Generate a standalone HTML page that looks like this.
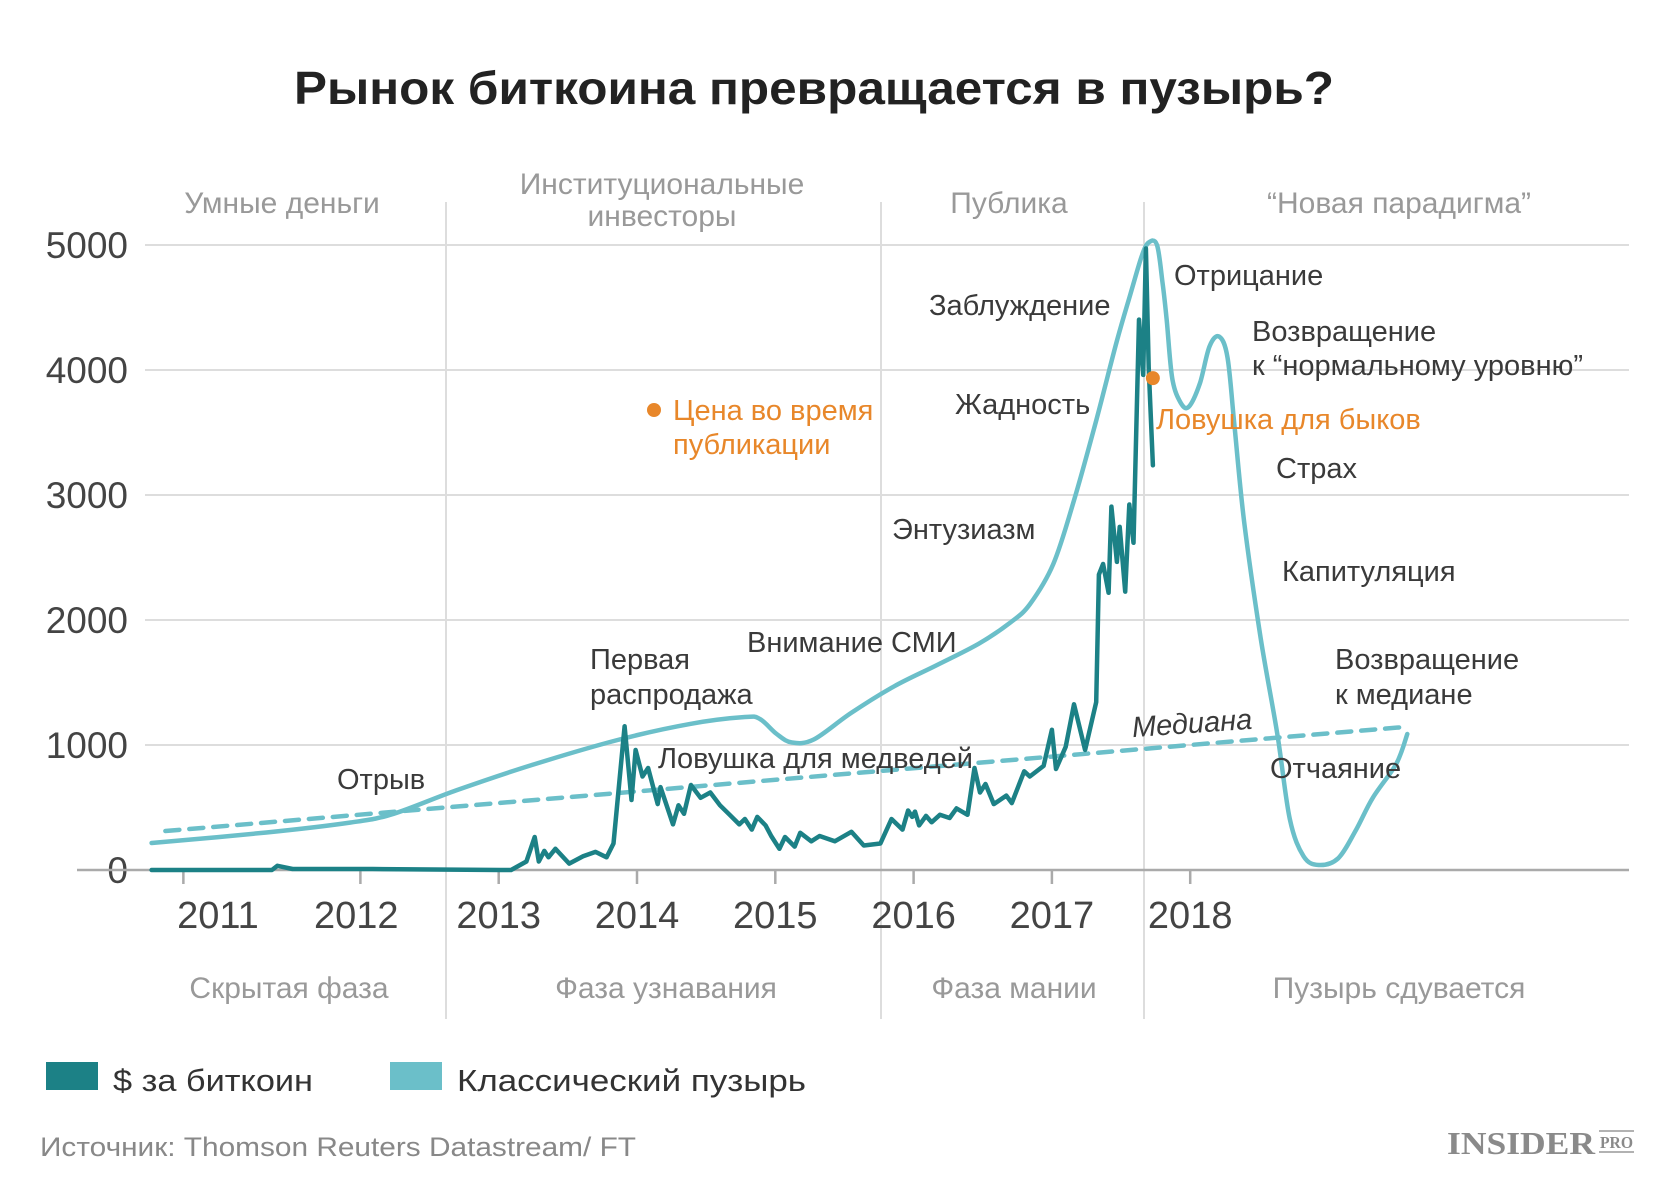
<!DOCTYPE html>
<html><head><meta charset="utf-8">
<style>
html,body{margin:0;padding:0;background:#fff;}
svg{display:block;font-family:"Liberation Sans","DejaVu Sans",sans-serif;}
.ann{font-size:29px;fill:#3a3a3a;}
.ph{font-size:30px;fill:#999;}
.yl{font-size:37px;fill:#444;}
.xl{font-size:38px;fill:#444;}
</style></head>
<body>
<svg id="chart" width="1668" height="1182" viewBox="0 0 1668 1182" xmlns="http://www.w3.org/2000/svg">
<text x="814" y="104" text-anchor="middle" font-size="46" font-weight="bold" fill="#222" textLength="1040" lengthAdjust="spacingAndGlyphs">Рынок биткоина превращается в пузырь?</text>
<g id="grid"></g>
<g id="phases">
<line x1="446" y1="202" x2="446" y2="1019" stroke="#ddd" stroke-width="2"/>
<line x1="881" y1="202" x2="881" y2="1019" stroke="#ddd" stroke-width="2"/>
<line x1="1144" y1="202" x2="1144" y2="1019" stroke="#ddd" stroke-width="2"/>
</g>
<text class="ph" x="282" y="213" text-anchor="middle">Умные деньги</text>
<text class="ph" x="662" y="194" text-anchor="middle">Институциональные</text>
<text class="ph" x="662" y="226" text-anchor="middle">инвесторы</text>
<text class="ph" x="1009" y="213" text-anchor="middle">Публика</text>
<text class="ph" x="1399" y="213" text-anchor="middle">“Новая парадигма”</text>
<text class="ph" x="289" y="998" text-anchor="middle">Скрытая фаза</text>
<text class="ph" x="666" y="998" text-anchor="middle">Фаза узнавания</text>
<text class="ph" x="1014" y="998" text-anchor="middle">Фаза мании</text>
<text class="ph" x="1399" y="998" text-anchor="middle">Пузырь сдувается</text>
<g id="axes"></g>
<g id="series"></g>
<g>
<text class="ann" x="337" y="789">Отрыв</text>
<text class="ann" x="590" y="669">Первая</text>
<text class="ann" x="590" y="704">распродажа</text>
<text class="ann" x="747" y="652">Внимание СМИ</text>
<text class="ann" x="658" y="768">Ловушка для медведей</text>
<text class="ann" x="892" y="539">Энтузиазм</text>
<text class="ann" x="955" y="414">Жадность</text>
<text class="ann" x="929" y="315">Заблуждение</text>
<text class="ann" x="1174" y="285">Отрицание</text>
<text class="ann" x="1252" y="341">Возвращение</text>
<text class="ann" x="1252" y="375">к “нормальному уровню”</text>
<text class="ann" x="1156" y="429" style="fill:#e8872a">Ловушка для быков</text>
<text class="ann" x="1276" y="478">Страх</text>
<text class="ann" x="1282" y="581">Капитуляция</text>
<text class="ann" x="1335" y="669">Возвращение</text>
<text class="ann" x="1335" y="704">к медиане</text>
<text class="ann" x="1270" y="778">Отчаяние</text>
<text class="ann" x="1192" y="733" text-anchor="middle" font-style="italic" transform="rotate(-4 1192 723)">Медиана</text>
<circle cx="654" cy="410" r="7" fill="#e8872a"/>
<text class="ann" x="673" y="420" style="fill:#e8872a">Цена во время</text>
<text class="ann" x="673" y="454" style="fill:#e8872a">публикации</text>
</g>
<rect x="46" y="1062" width="52" height="28" fill="#1c8186"/>
<text x="113" y="1091" font-size="31" fill="#333" textLength="200" lengthAdjust="spacingAndGlyphs">$ за биткоин</text>
<rect x="390" y="1062" width="52" height="28" fill="#6bbfc9"/>
<text x="457" y="1091" font-size="31" fill="#333" textLength="349" lengthAdjust="spacingAndGlyphs">Классический пузырь</text>
<text x="40" y="1156" font-size="27" fill="#888" textLength="596" lengthAdjust="spacingAndGlyphs">Источник: Thomson Reuters Datastream/ FT</text>
<g>
<text x="1447" y="1154" font-family="Liberation Serif,serif" font-weight="bold" font-size="32" fill="#8a8a8a" textLength="148" lengthAdjust="spacingAndGlyphs">INSIDER</text>
<line x1="1599" y1="1131" x2="1634" y2="1131" stroke="#999" stroke-width="1.5"/>
<text x="1600" y="1148" font-family="Liberation Serif,serif" font-weight="bold" font-size="17" fill="#8a8a8a" textLength="33" lengthAdjust="spacingAndGlyphs">PRO</text>
<line x1="1599" y1="1152" x2="1634" y2="1152" stroke="#999" stroke-width="1.5"/>
</g>
</svg>
<script>
const yTicks = [0, 1000, 2000, 3000, 4000, 5000];
const yearLabels = ["2011","2012","2013","2014","2015","2016","2017","2018"];
const yearTickTimes = [2010.72, 2012, 2013, 2014, 2015, 2016, 2017, 2018];
const yearLabelTimes = [2010.97, 2011.97, 2013, 2014, 2015, 2016, 2017, 2018];
const btcT = [2010.49,2011.36,2011.40,2011.51,2012.09,2013.01,2013.09,2013.20,2013.26,2013.29,2013.33,2013.36,2013.41,2013.51,2013.61,2013.70,2013.78,2013.83,2013.91,2013.96,2013.99,2014.04,2014.08,2014.15,2014.17,2014.26,2014.30,2014.34,2014.39,2014.46,2014.53,2014.60,2014.67,2014.74,2014.78,2014.83,2014.87,2014.93,2014.97,2015.03,2015.07,2015.14,2015.18,2015.26,2015.32,2015.43,2015.55,2015.64,2015.76,2015.84,2015.92,2015.96,2015.99,2016.01,2016.04,2016.09,2016.13,2016.19,2016.26,2016.31,2016.39,2016.44,2016.48,2016.52,2016.58,2016.67,2016.71,2016.80,2016.84,2016.94,2017.00,2017.03,2017.10,2017.16,2017.24,2017.32,2017.34,2017.37,2017.41,2017.43,2017.47,2017.49,2017.53,2017.56,2017.59,2017.63,2017.66,2017.68,2017.70,2017.73];
const btcV = [0,0,34,8,8,0,0,68,264,68,153,102,170,51,110,145,102,212,1150,560,960,748,816,527,663,365,518,450,680,578,620,518,442,365,408,323,425,357,272,170,264,187,298,230,272,230,306,196,212,408,323,476,425,467,357,433,382,442,416,493,442,816,620,688,527,595,535,790,748,833,1122,808,986,1326,960,1343,2363,2448,2218,2907,2465,2745,2227,2924,2618,4403,3961,4972,4020,3238];
const bubbleT = [2010.49,2011.32,2011.93,2012.24,2012.70,2013.24,2013.86,2014.39,2014.78,2014.89,2015.01,2015.12,2015.28,2015.55,2015.86,2016.17,2016.47,2016.70,2016.84,2017.01,2017.16,2017.32,2017.47,2017.57,2017.65,2017.70,2017.76,2017.80,2017.83,2017.87,2017.93,2017.99,2018.07,2018.14,2018.21,2018.27,2018.32,2018.39,2018.51,2018.63,2018.72,2018.82,2018.93,2019.07,2019.20,2019.32,2019.49,2019.57];
const bubbleV = [216,300,380,450,640,840,1040,1170,1224,1207,1088,1020,1045,1258,1470,1640,1810,1980,2125,2448,2958,3595,4233,4615,4913,5020,5000,4700,4400,3935,3740,3706,3893,4190,4267,4100,3553,2788,1853,1088,408,110,40,94,323,578,850,1088];
const medianT = [2010.59, 2019.55];
const medianV = [312, 1144];
const pubT = [2017.73];
const pubV = [3935];

const NS = "http://www.w3.org/2000/svg";
function xs(t){ return 637 + (t - 2014) * 138.3; }
function ys(v){ return 870 - v * 0.125; }
function mk(tag, attrs, parent){
  const e = document.createElementNS(NS, tag);
  for (const k in attrs) e.setAttribute(k, attrs[k]);
  parent.appendChild(e); return e;
}
const grid = document.getElementById('grid');
const axes = document.getElementById('axes');
const series = document.getElementById('series');
yTicks.forEach(v => {
  if (v > 0) {
    const l = mk('line', {x1:145, x2:1629, y1:ys(v), y2:ys(v), stroke:'#ddd', 'stroke-width':2}, grid);
    
    
  }
  const t = mk('text', {x:128, y:ys(v)+13, 'text-anchor':'end', class:'yl'}, axes);
  t.textContent = v;
  
  
});
const ax = mk('line', {x1:77, x2:1629, y1:870, y2:870, stroke:'#aaa', 'stroke-width':2.5}, axes);


yearLabels.forEach((lab, i) => {
  const tk = mk('line', {x1:xs(yearTickTimes[i]), x2:xs(yearTickTimes[i]), y1:870, y2:884, stroke:'#aaa', 'stroke-width':2.5}, axes);
  
  
  const t = mk('text', {x:xs(yearLabelTimes[i]), y:928, 'text-anchor':'middle', class:'xl'}, axes);
  t.textContent = lab;
  
  
});
function smooth(pts){
  let d = 'M' + pts[0][0].toFixed(1) + ',' + pts[0][1].toFixed(1);
  for (let i = 0; i < pts.length - 1; i++){
    const p0 = pts[i-1] || pts[i], p1 = pts[i], p2 = pts[i+1], p3 = pts[i+2] || p2;
    const c1x = p1[0] + (p2[0]-p0[0])/6, c1y = p1[1] + (p2[1]-p0[1])/6;
    const c2x = p2[0] - (p3[0]-p1[0])/6, c2y = p2[1] - (p3[1]-p1[1])/6;
    d += ' C' + c1x.toFixed(1)+','+c1y.toFixed(1)+' '+c2x.toFixed(1)+','+c2y.toFixed(1)+' '+p2[0].toFixed(1)+','+p2[1].toFixed(1);
  }
  return d;
}
const med = mk('line', {x1:xs(medianT[0]), y1:ys(medianV[0]), x2:xs(medianT[1]), y2:ys(medianV[1]), stroke:'#6bbfc9', 'stroke-width':4.5, 'stroke-dasharray':'14 10', 'stroke-linecap':'round'}, series);


const bp = bubbleT.map((t,i)=>[xs(t), ys(bubbleV[i])]);
const bub = mk('path', {d:smooth(bp), fill:'none', stroke:'#6bbfc9', 'stroke-width':4.5, 'stroke-linecap':'round', 'stroke-linejoin':'round'}, series);


const btcPts = btcT.map((t,i)=>xs(t).toFixed(1)+','+ys(btcV[i]).toFixed(1)).join(' ');
const btc = mk('polyline', {points:btcPts, fill:'none', stroke:'#1c8186', 'stroke-width':4.5, 'stroke-linejoin':'round', 'stroke-linecap':'round'}, series);


pubT.forEach((t,i)=>{
  const c = mk('circle', {cx:xs(t), cy:ys(pubV[i]), r:7, fill:'#e8872a'}, series);
  
  
});
</script>
</body></html>
